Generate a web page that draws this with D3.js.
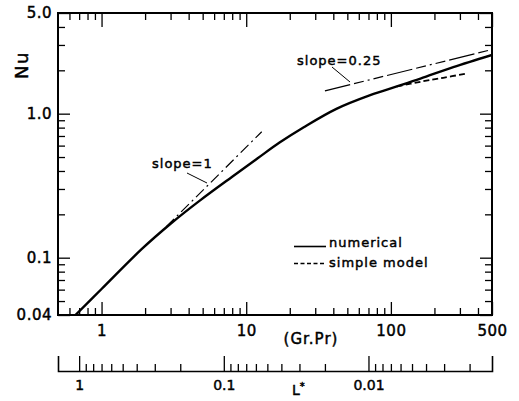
<!DOCTYPE html>
<html>
<head>
<meta charset="utf-8">
<script src="https://cdn.jsdelivr.net/npm/d3@7"></script>
<style>
body { margin: 0; background: #fff; }
text { font-family: "DejaVu Sans", sans-serif; fill: #000; stroke: #000; stroke-width: 0.45px; }
</style>
</head>
<body>
<div id="chart"></div>
<script>
// numerical solution
var grNumerical = [0.66, 1, 1.9, 3, 4.8, 8, 12, 17, 25, 42, 72, 110, 160, 270, 500];
var nuNumerical = [0.04, 0.0606, 0.115, 0.172, 0.25, 0.365, 0.49, 0.63, 0.805, 1.08, 1.345, 1.545, 1.75, 2.105, 2.56];

// simple model (dashed, only where it leaves the numerical curve)
var grSimple = [110, 160, 230, 325];
var nuSimple = [1.545, 1.665, 1.775, 1.89];

// asymptotes
var grSlope1 = [2.8, 12.8];
var nuSlope1 = [0.164, 0.749];
var grSlope025 = [35, 500];
var nuSlope025 = [1.44, 2.79];

var xMajorTicks = [1, 10, 100, 500];
var xMajorLabels = ["1", "10", "100", "500"];
var xMinorTicks = [0.6, 0.7, 0.8, 0.9, 2, 3, 4, 5, 6, 7, 8, 9, 20, 30, 40, 50, 60, 70, 80, 90, 200, 300, 400];
var yMajorTicks = [0.04, 0.1, 1, 5];
var yMajorLabels = ["0.04", "0.1", "1.0", "5.0"];
var yMinorTicks = [0.05, 0.06, 0.07, 0.08, 0.09, 0.2, 0.3, 0.4, 0.5, 0.6, 0.7, 0.8, 0.9, 2, 3, 4];
var lMajorTicks = [1, 0.1, 0.01];
var lMajorLabels = ["1", "0.1", "0.01"];
var lMinorTicks = [0.9, 0.8, 0.7, 0.6, 0.5, 0.4, 0.3, 0.2, 0.09, 0.08, 0.07, 0.06, 0.05, 0.04, 0.03, 0.02,
	0.009, 0.008, 0.007, 0.006, 0.005, 0.004, 0.003, 0.002];

var plotLeft = 58, plotRight = 492, plotTop = 13, plotBottom = 315, lAxisY = 371;

var svg = d3.select("#chart").append("svg")
	.attr("width", 519)
	.attr("height", 401);

var x = d3.scaleLog().domain([0.5, 500]).range([plotLeft, plotRight]);
var y = d3.scaleLog().domain([0.04, 5]).range([plotBottom, plotTop]);
var lStar = d3.scaleLog().domain([1.4, 0.0014]).range([plotLeft, plotRight]);

function cleanAxis(g) {
	g.select(".domain").remove();
	g.selectAll("line").attr("stroke", "#000").attr("stroke-width", 1.3);
	g.selectAll("text").attr("font-family", "DejaVu Sans").attr("fill", "#000");
}

// bottom axis
svg.append("g")
	.attr("transform", "translate(0," + plotBottom + ")")
	.call(d3.axisBottom(x).tickValues(xMinorTicks).tickSize(-7).tickFormat(""))
	.call(cleanAxis);
svg.append("g")
	.attr("transform", "translate(0," + plotBottom + ")")
	.call(d3.axisBottom(x).tickValues(xMajorTicks).tickSize(-13).tickPadding(10)
		.tickFormat(function (d, i) { return xMajorLabels[i]; }))
	.call(cleanAxis)
	.selectAll("text")
	.attr("font-size", 15)
	.attr("letter-spacing", 0.5);

// top axis
svg.append("g")
	.attr("transform", "translate(0," + plotTop + ")")
	.call(d3.axisTop(x).tickValues(xMinorTicks).tickSize(-7).tickFormat(""))
	.call(cleanAxis);
svg.append("g")
	.attr("transform", "translate(0," + plotTop + ")")
	.call(d3.axisTop(x).tickValues(xMajorTicks).tickSize(-14).tickFormat(""))
	.call(cleanAxis);

// left axis
svg.append("g")
	.attr("transform", "translate(" + plotLeft + ",0)")
	.call(d3.axisLeft(y).tickValues(yMinorTicks).tickSize(-7).tickFormat(""))
	.call(cleanAxis);
svg.append("g")
	.attr("transform", "translate(" + plotLeft + ",0)")
	.call(d3.axisLeft(y).tickValues(yMajorTicks).tickSize(-12).tickPadding(6)
		.tickFormat(function (d, i) { return yMajorLabels[i]; }))
	.call(cleanAxis)
	.selectAll("text")
	.attr("font-size", 15)
	.attr("letter-spacing", 0.5);

// right axis
svg.append("g")
	.attr("transform", "translate(" + plotRight + ",0)")
	.call(d3.axisRight(y).tickValues(yMinorTicks).tickSize(-7).tickFormat(""))
	.call(cleanAxis);
svg.append("g")
	.attr("transform", "translate(" + plotRight + ",0)")
	.call(d3.axisRight(y).tickValues(yMajorTicks).tickSize(-12).tickFormat(""))
	.call(cleanAxis);

// frame
svg.append("rect")
	.attr("x", plotLeft)
	.attr("y", plotTop)
	.attr("width", plotRight - plotLeft)
	.attr("height", plotBottom - plotTop)
	.attr("fill", "none")
	.attr("stroke", "#000")
	.attr("stroke-width", 2);

// L* axis
var lAxis = svg.append("g")
	.attr("transform", "translate(0," + lAxisY + ")")
	.call(d3.axisBottom(lStar).tickValues(lMajorTicks).tickSize(-15).tickSizeOuter(-15).tickPadding(9)
		.tickFormat(function (d, i) { return lMajorLabels[i]; }));
lAxis.select(".domain").attr("stroke", "#000").attr("stroke-width", 1.6);
lAxis.selectAll("line").attr("stroke", "#000").attr("stroke-width", 1.3);
lAxis.selectAll("text").attr("font-family", "DejaVu Sans").attr("font-size", 14).attr("fill", "#000");
svg.append("g")
	.attr("transform", "translate(0," + lAxisY + ")")
	.call(d3.axisBottom(lStar).tickValues(lMinorTicks).tickSize(-7).tickFormat(""))
	.call(cleanAxis);

// axis titles
svg.append("text")
	.attr("transform", "translate(28,65) rotate(-90)")
	.attr("text-anchor", "middle")
	.attr("font-size", 18)
	.attr("letter-spacing", 1.5)
	.text("Nu");
svg.append("text")
	.attr("x", 311)
	.attr("y", 344)
	.attr("text-anchor", "middle")
	.attr("font-size", 15)
	.attr("letter-spacing", 1)
	.text("(Gr.Pr)");
var lTitle = svg.append("text")
	.attr("x", 292)
	.attr("y", 395)
	.attr("font-size", 14)
	.text("L");
lTitle.append("tspan")
	.attr("font-size", 10)
	.attr("dy", -5)
	.text("*");

// curves
svg.append("clipPath")
	.attr("id", "plotClip")
	.append("rect")
	.attr("x", plotLeft)
	.attr("y", plotTop)
	.attr("width", plotRight - plotLeft)
	.attr("height", plotBottom - plotTop);

var line = d3.line()
	.x(function (d) { return x(d[0]); })
	.y(function (d) { return y(d[1]); })
	.curve(d3.curveCatmullRom.alpha(0.5));

var plot = svg.append("g").attr("clip-path", "url(#plotClip)");

plot.append("path")
	.datum(d3.zip(grSlope1, nuSlope1))
	.attr("d", line)
	.attr("fill", "none")
	.attr("stroke", "#000")
	.attr("stroke-width", 1.2)
	.attr("stroke-dasharray", "11,4,2,4");

plot.append("path")
	.datum(d3.zip(grSlope025, nuSlope025))
	.attr("d", line)
	.attr("fill", "none")
	.attr("stroke", "#000")
	.attr("stroke-width", 1.2)
	.attr("stroke-dasharray", "26,4,10,4,2,4,10,4");

plot.append("path")
	.datum(d3.zip(grNumerical, nuNumerical))
	.attr("d", line)
	.attr("fill", "none")
	.attr("stroke", "#000")
	.attr("stroke-width", 2.4);

plot.append("path")
	.datum(d3.zip(grSimple, nuSimple))
	.attr("d", line)
	.attr("fill", "none")
	.attr("stroke", "#000")
	.attr("stroke-width", 1.8)
	.attr("stroke-dasharray", "6,3");

// slope labels with leader lines
svg.append("text")
	.attr("x", 152)
	.attr("y", 168)
	.attr("font-size", 13)
	.attr("letter-spacing", 1)
	.text("slope=1");
svg.append("line")
	.attr("x1", 187).attr("y1", 173)
	.attr("x2", 207).attr("y2", 183)
	.attr("stroke", "#000")
	.attr("stroke-width", 1);

svg.append("text")
	.attr("x", 297)
	.attr("y", 65)
	.attr("font-size", 13)
	.attr("letter-spacing", 1)
	.text("slope=0.25");
svg.append("line")
	.attr("x1", 332).attr("y1", 67)
	.attr("x2", 350).attr("y2", 82)
	.attr("stroke", "#000")
	.attr("stroke-width", 1);

// legend
svg.append("line")
	.attr("x1", 294).attr("y1", 246.5)
	.attr("x2", 326).attr("y2", 246.5)
	.attr("stroke", "#000")
	.attr("stroke-width", 1.6);
svg.append("text")
	.attr("x", 329)
	.attr("y", 247)
	.attr("font-size", 13)
	.attr("letter-spacing", 1)
	.text("numerical");
svg.append("line")
	.attr("x1", 294).attr("y1", 263.5)
	.attr("x2", 326).attr("y2", 263.5)
	.attr("stroke", "#000")
	.attr("stroke-width", 1.4)
	.attr("stroke-dasharray", "4,2.5");
svg.append("text")
	.attr("x", 329)
	.attr("y", 267)
	.attr("font-size", 13)
	.attr("letter-spacing", 1)
	.text("simple model");
</script>
</body>
</html>
